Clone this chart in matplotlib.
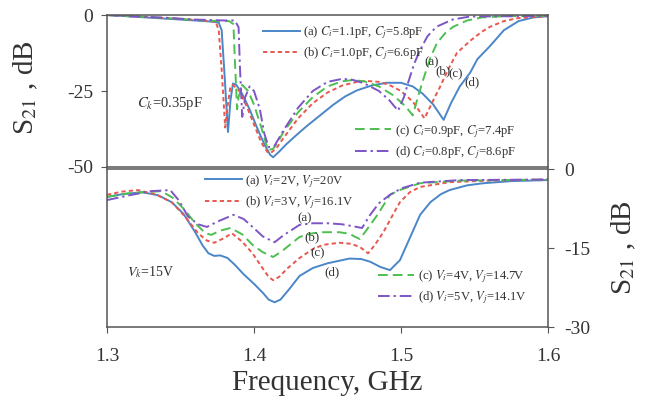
import matplotlib
matplotlib.use("Agg")
import matplotlib.pyplot as plt

plt.rcParams['font.family'] = ['Liberation Serif', 'DejaVu Serif']
plt.rcParams['mathtext.fontset'] = 'stix'
plt.rcParams['axes.unicode_minus'] = False

# ---- top panel: capacitance tuning ----
f_top_a = [1.300, 1.320, 1.340, 1.360, 1.372, 1.376, 1.378, 1.380, 1.3823, 1.384, 1.3857, 1.388,
           1.392, 1.397, 1.402, 1.407, 1.411, 1.413, 1.417, 1.422, 1.430, 1.436, 1.445, 1.454,
           1.462, 1.470, 1.480, 1.490, 1.500, 1.508, 1.515, 1.522, 1.529, 1.534, 1.540, 1.547,
           1.552, 1.560, 1.570, 1.580, 1.590, 1.600]
s_top_a = [0, -0.6, -1.2, -1.8, -2.2, -2.5, -5, -20, -38.5, -28, -22.5, -23,
           -26, -31, -37, -42.5, -46, -46.8, -45, -42.5, -39, -36.5, -33, -29.5,
           -26.8, -24.8, -23.2, -22.3, -22.3, -23.5, -26, -29.5, -34.5, -29, -23.5, -19,
           -14.5, -10.5, -5, -2, -0.8, -0.4]

f_top_b = [1.300, 1.320, 1.340, 1.360, 1.370, 1.374, 1.376, 1.378, 1.3804, 1.382, 1.384, 1.3857,
           1.390, 1.395, 1.400, 1.405, 1.409, 1.411, 1.415, 1.420, 1.430, 1.440, 1.450, 1.460,
           1.470, 1.477, 1.485, 1.492, 1.500, 1.508, 1.516, 1.522, 1.5265, 1.532, 1.538, 1.547,
           1.555, 1.5605, 1.570, 1.580, 1.600]
s_top_b = [0, -0.5, -1.0, -1.6, -2.0, -2.3, -5, -18, -37, -30, -23.5, -23,
           -25, -30, -36, -42, -45, -45.5, -44, -40.5, -34, -29, -25.5, -23.2,
           -22, -21.7, -22, -23, -25, -28.5, -34, -28, -23.7, -18, -12.5, -8.5,
           -5.5, -3.9, -2, -1, -0.4]

f_top_c = [1.300, 1.320, 1.340, 1.360, 1.375, 1.383, 1.386, 1.387, 1.3885, 1.3895, 1.392, 1.396,
           1.400, 1.405, 1.4095, 1.413, 1.416, 1.420, 1.430, 1.440, 1.450, 1.460, 1.467, 1.475,
           1.485, 1.495, 1.503, 1.508, 1.5115, 1.515, 1.520, 1.5245, 1.530, 1.5354, 1.545, 1.555,
           1.570, 1.600]
s_top_c = [0, -0.5, -1.0, -1.6, -2.0, -2.0, -3, -15, -31, -27, -23, -25,
           -29.5, -37, -44.5, -44, -42, -38.5, -32, -27, -23.5, -21.8, -21.4, -21.8,
           -23.5, -26.5, -30, -33, -27, -21.4, -14, -9.2, -6, -3.9, -1.8, -0.8,
           -0.4, -0.3]

f_top_d = [1.300, 1.320, 1.340, 1.360, 1.380, 1.387, 1.3895, 1.3905, 1.392, 1.394, 1.397, 1.400,
           1.404, 1.407, 1.410, 1.414, 1.420, 1.430, 1.440, 1.450, 1.460, 1.467, 1.475, 1.485,
           1.492, 1.498, 1.502, 1.505, 1.509, 1.513, 1.518, 1.524, 1.535, 1.547, 1.600]
s_top_d = [0, -0.5, -0.9, -1.5, -1.8, -1.8, -4, -18, -33.5, -27, -23.5, -25,
           -31, -39, -43.5, -43, -38, -30.5, -25, -22, -21, -21.3, -22.5, -25,
           -28, -31.5, -27, -22, -16, -11.5, -7, -3.9, -1.5, -0.5, -0.3]

# ---- bottom panel: voltage tuning ----
f_bot_a = [1.300, 1.310, 1.324, 1.335, 1.344, 1.352, 1.360, 1.365, 1.369, 1.373, 1.377, 1.382,
           1.387, 1.393, 1.400, 1.406, 1.410, 1.414, 1.418, 1.424, 1.431, 1.440, 1.450, 1.465,
           1.473, 1.479, 1.486, 1.4925, 1.4993, 1.506, 1.513, 1.520, 1.527, 1.533, 1.545, 1.556,
           1.575, 1.600]
s_bot_a = [-5.3, -4.8, -4.4, -5.0, -6.3, -8.5, -12, -14.5, -16, -16.5, -16.4, -16.9,
           -18.2, -20, -21.8, -23.5, -24.8, -25.3, -24.8, -22.8, -20.3, -18.8, -17.9, -17.0,
           -17.1, -17.6, -18.6, -19.2, -17.3, -13.1, -8.7, -6.3, -4.8, -4.0, -3.1, -2.7,
           -2.3, -2.1]

f_bot_b = [1.300, 1.310, 1.321, 1.333, 1.344, 1.353, 1.362, 1.368, 1.373, 1.379, 1.385, 1.392,
           1.399, 1.405, 1.410, 1.413, 1.417, 1.423, 1.431, 1.440, 1.447, 1.458, 1.466, 1.472,
           1.4776, 1.482, 1.488, 1.497, 1.4993, 1.506, 1.513, 1.533, 1.560, 1.600]
s_bot_b = [-4.9, -4.3, -4.0, -4.8, -6.3, -9, -12.2, -13.6, -14.0, -13.2, -12.2, -13.8,
           -16.0, -18.5, -20.5, -21.1, -20.5, -18.8, -16.9, -15.2, -14.4, -14.0, -14.2, -14.8,
           -16.0, -14.5, -12, -7.4, -6.3, -4.4, -3.4, -2.5, -2.2, -2.0]

f_bot_c = [1.300, 1.315, 1.337, 1.345, 1.352, 1.360, 1.367, 1.371, 1.377, 1.384, 1.392, 1.399,
           1.406, 1.413, 1.419, 1.431, 1.440, 1.447, 1.458, 1.465, 1.469, 1.472, 1.476, 1.484,
           1.4925, 1.499, 1.513, 1.540, 1.600]
s_bot_c = [-5.3, -4.6, -4.2, -5.5, -7.5, -10.3, -12.2, -12.5, -11.7, -11.2, -12.4, -14.4,
           -15.8, -16.7, -15.6, -12.9, -12.2, -12.0, -12.0, -12.3, -12.9, -13.3, -11.8, -8.7,
           -4.9, -4.0, -2.7, -2.2, -2.0]

f_bot_d = [1.300, 1.315, 1.330, 1.343, 1.349, 1.355, 1.362, 1.368, 1.375, 1.386, 1.393, 1.399,
           1.406, 1.414, 1.420, 1.431, 1.440, 1.450, 1.460, 1.468, 1.4735, 1.479, 1.485, 1.4925,
           1.500, 1.513, 1.540, 1.600]
s_bot_d = [-5.9, -5.0, -4.2, -4.0, -6, -9.0, -10.5, -11.0, -10.0, -8.7, -9.5, -11.0,
           -12.8, -13.9, -12.6, -10.6, -10.3, -10.3, -10.5, -10.9, -11.2, -8.7, -6.5, -4.9,
           -3.7, -2.6, -2.1, -2.0]

top_labels = [r'(a) $C_i$=1.1pF, $C_j$=5.8pF', r'(b) $C_i$=1.0pF, $C_j$=6.6pF',
              r'(c) $C_i$=0.9pF, $C_j$=7.4pF', r'(d) $C_i$=0.8pF, $C_j$=8.6pF']
bot_labels = [r'(a) $V_i$=2V, $V_j$=20V', r'(b) $V_i$=3V, $V_j$=16.1V',
              r'(c) $V_i$=4V, $V_j$=14.7V', r'(d) $V_i$=5V, $V_j$=14.1V']

colors = ['#4a86c8', '#e8584f', '#4cbf50', '#7d55c7']
styles = [dict(linestyle='-'), dict(dashes=(2.2, 1.6)), dict(dashes=(5, 2.6)),
          dict(dashes=(6, 2, 1.2, 2))]
text_col = '#333333'
spine_col = '#555555'

fig = plt.figure(figsize=(6.45, 3.96), dpi=100)
ax1 = fig.add_axes([0.1659, 0.5783, 0.6837, 0.3838])
ax2 = fig.add_axes([0.1659, 0.1742, 0.6837, 0.3990])

top_x = [f_top_a, f_top_b, f_top_c, f_top_d]
top_y = [s_top_a, s_top_b, s_top_c, s_top_d]
bot_x = [f_bot_a, f_bot_b, f_bot_c, f_bot_d]
bot_y = [s_bot_a, s_bot_b, s_bot_c, s_bot_d]

h1 = []
for i in range(4):
    l, = ax1.plot(top_x[i], top_y[i], color=colors[i], lw=1.4, label=top_labels[i], **styles[i])
    h1.append(l)
h2 = []
for i in range(4):
    l, = ax2.plot(bot_x[i], bot_y[i], color=colors[i], lw=1.4, label=bot_labels[i], **styles[i])
    h2.append(l)

for ax in (ax1, ax2):
    ax.set_xlim(1.3, 1.6)
    for s in ax.spines.values():
        s.set_color(spine_col)
        s.set_linewidth(1.1)
    ax.tick_params(colors=spine_col, labelcolor=text_col, labelsize=14, direction='out', length=4)

ax1.set_ylim(-50, 0)
ax1.set_yticks([0, -25, -50])
ax1.tick_params(axis='x', bottom=False, labelbottom=False)
ax1.tick_params(axis='y', pad=6)
ax1.set_ylabel(r'S$_{21}$ , dB', fontsize=21, color=text_col)
ax1.yaxis.set_label_coords(-0.152, 0.52)

ax2.set_ylim(-30, 0)
ax2.set_yticks([0, -15, -30])
ax2.yaxis.tick_right()
ax2.tick_params(axis='y', pad=8)
ax2.yaxis.set_label_position('right')
ax2.set_ylabel(r'S$_{21}$ , dB', fontsize=21, color=text_col, rotation=90)
ax2.yaxis.set_label_coords(1.141, 0.5)
ax2.set_xticks([1.3, 1.4, 1.5, 1.6])
ax2.set_xticklabels(['1.3', '1.4', '1.5', '1.6'])
ax2.tick_params(axis='x', pad=11)
ax2.set_xlabel('Frequency, GHz', fontsize=21, color=text_col, labelpad=4)

leg_kw = dict(frameon=False, fontsize=9.1, handlelength=2.9, handletextpad=0.25,
              labelspacing=0.35, borderpad=0, borderaxespad=0, labelcolor=text_col)
lg = ax1.legend(h1[:2], top_labels[:2], loc='upper left', bbox_to_anchor=(0.354, 0.94), **leg_kw)
ax1.add_artist(lg)
ax1.legend(h1[2:], top_labels[2:], loc='upper left', bbox_to_anchor=(0.562, 0.29), **leg_kw)
lg = ax2.legend(h2[:2], bot_labels[:2], loc='upper left', bbox_to_anchor=(0.222, 0.975), **leg_kw)
ax2.add_artist(lg)
ax2.legend(h2[2:], bot_labels[2:], loc='upper left', bbox_to_anchor=(0.614, 0.37), **leg_kw)

ax1.text(0.143, 0.42, r'$C_k$=0.35pF', transform=ax1.transAxes, fontsize=10.5,
         color=text_col, ha='center', va='center')
ax2.text(0.098, 0.35, r'$V_k$=15V', transform=ax2.transAxes, fontsize=10,
         color=text_col, ha='center', va='center')

top_tag_x = [1.5205, 1.5285, 1.5375, 1.548]
top_tag_y = [-15.6, -18.6, -19.6, -22.2]
bot_tag_x = [1.4347, 1.4395, 1.4435, 1.453]
bot_tag_y = [-9.3, -13.0, -16.0, -19.6]
for i, t in enumerate(['(a)', '(b)', '(c)', '(d)']):
    ax1.text(top_tag_x[i], top_tag_y[i], t, fontsize=9.3, color=text_col, ha='center', va='center')
    ax2.text(bot_tag_x[i], bot_tag_y[i], t, fontsize=9.3, color=text_col, ha='center', va='center')

fig.savefig('out.png', dpi=100)
